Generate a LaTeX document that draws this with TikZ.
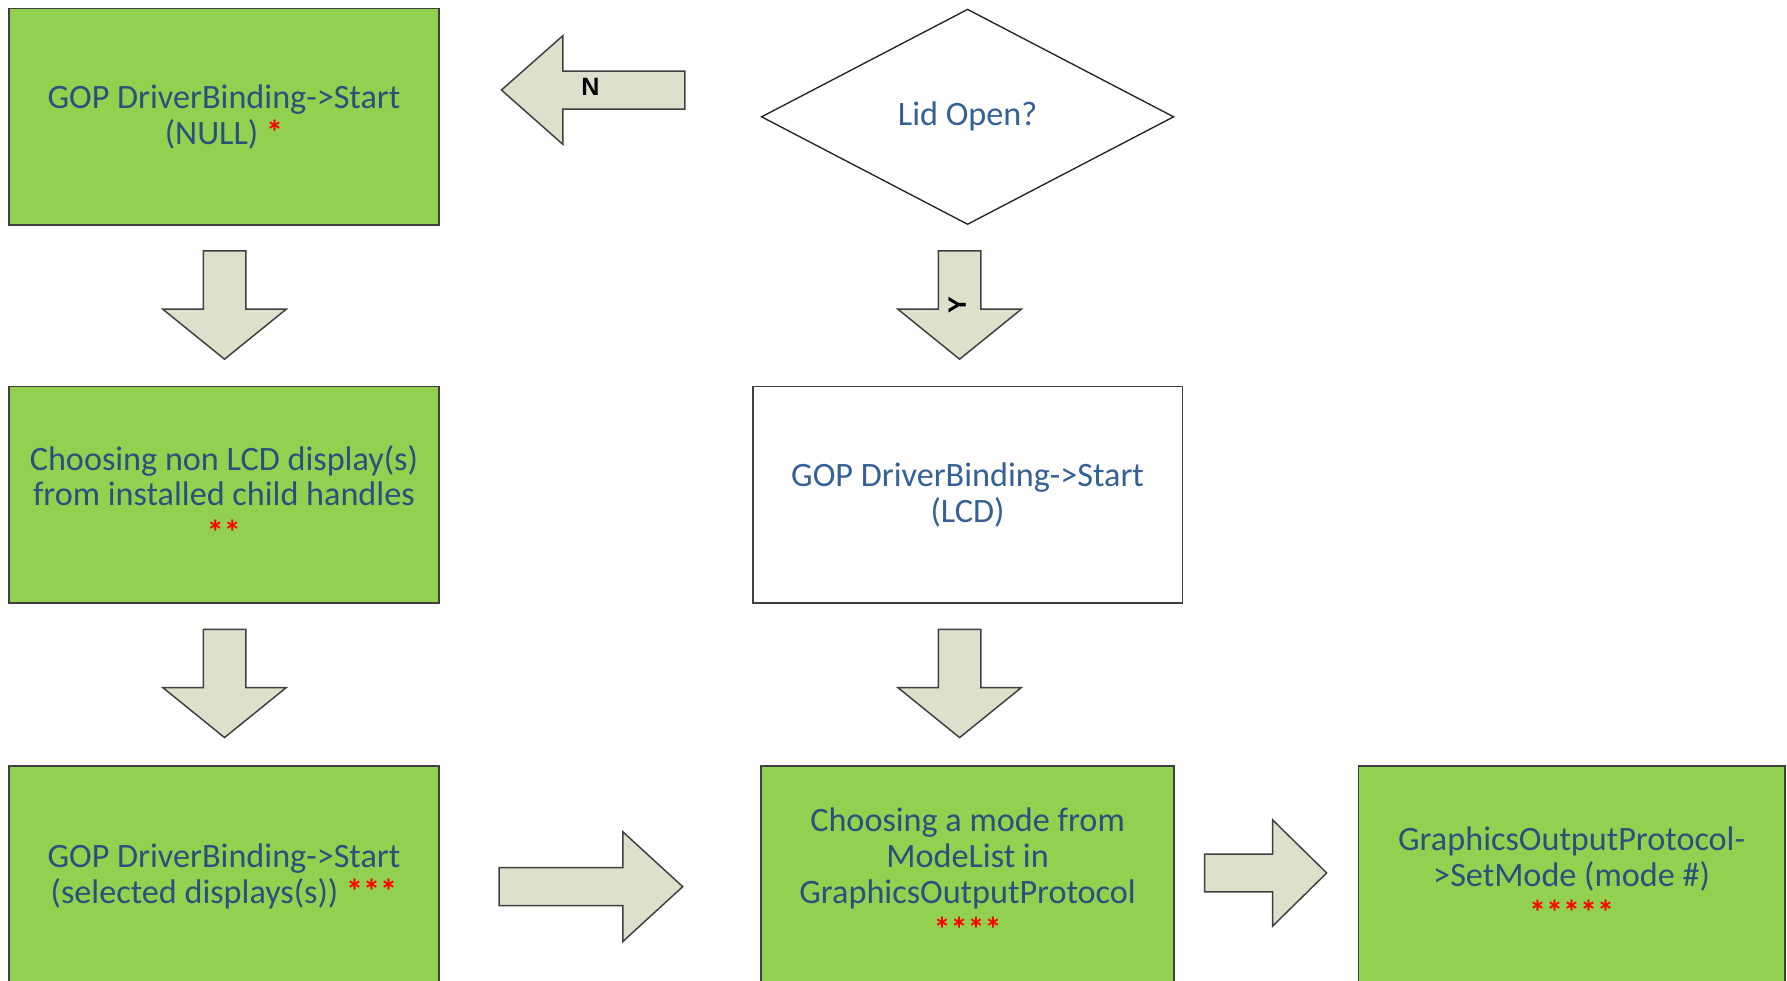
\documentclass[tikz,border=0pt]{standalone}
\usepackage{fontspec}
\setmainfont{Carlito}
\setsansfont{Liberation Sans}
\usetikzlibrary{shapes,positioning}
\definecolor{boxgreen}{HTML}{92D050}
\definecolor{arrowfill}{HTML}{DDE0CA}
\definecolor{textblue}{RGB}{40,82,125}
\definecolor{lightblue}{RGB}{52,96,150}
\tikzset{
  basic/.style  = {draw=black!75, line width=1.5pt, rectangle, align=center, inner sep=0pt,
                   text=textblue, font=\fontsize{30}{31.5}\selectfont},
  green box/.style = {basic, fill=boxgreen, minimum width=377pt, minimum height=190pt},
  white box/.style = {basic, fill=white, text=lightblue, minimum width=377pt, minimum height=190pt},
  decision/.style = {basic, diamond, draw=black!85, line width=1.2pt, fill=white, text=lightblue,
                   minimum width=362pt, minimum height=189pt},
  block/.style  = {single arrow, draw=black!75, line width=1.3pt, fill=arrowfill, anchor=tip,
                   inner sep=16pt, single arrow head extend=31pt},
  down block/.style = {block, shape border rotate=270, inner sep=18pt, minimum height=95pt,
                   single arrow head extend=35.5pt, single arrow tip angle=102},
  arrow label/.style = {font=\sffamily\bfseries\fontsize{22}{22}\selectfont, inner sep=0pt}
}
\newcommand{\stars}[1]{{\color{red}\bfseries #1}}

\begin{document}
\begin{tikzpicture}[x=1pt,y=-1pt]
\useasboundingbox (0,0) rectangle (1568,860);
% boxes
\node[green box] (null) at (196.5,102.5) {GOP DriverBinding->Start\\(NULL) \stars{*}};
\node[decision] (lid) at (849,102.5) {Lid Open?};
\node[green box] (nonlcd) at (196.5,434) {Choosing non LCD display(s)\\from installed child handles\\[2pt]\stars{**}};
\node[white box] (lcd) at (849,434) {GOP DriverBinding->Start\\(LCD)};
\node[green box, minimum height=192pt] (selected) at (196.5,768) {GOP DriverBinding->Start\\(selected displays(s)) \stars{***}\\[-28pt]};
\node[green box, minimum width=362pt, minimum height=192pt] (mode) at (849,768) {Choosing a mode from\\ModeList in\\GraphicsOutputProtocol\\[2pt]\stars{****}\\[-30pt]};
\node[green box, minimum width=374pt, minimum height=192pt] (setmode) at (1379,768) {GraphicsOutputProtocol-\\>SetMode (mode \#)\\[2pt]\stars{*****}\\[-32pt]};
% block arrows
\node[block, shape border rotate=180, minimum height=161pt, single arrow tip angle=83] (no) at (439,79) {};
\node[arrow label] (nlab) at (518,76) {N};
\node[down block] (yes) at (842,316) {};
\node[arrow label, rotate=90] (ylab) at (840,268) {Y};
\node[down block] (d1) at (197,316) {};
\node[down block] (d2) at (197,648) {};
\node[down block] (d3) at (842,648) {};
\node[block, minimum height=161pt, single arrow head extend=31.5pt, single arrow tip angle=85] (r1) at (600,778) {};
\node[block, minimum height=107pt, single arrow head extend=30pt, single arrow tip angle=89] (r2) at (1165,766) {};
\end{tikzpicture}
\end{document}
